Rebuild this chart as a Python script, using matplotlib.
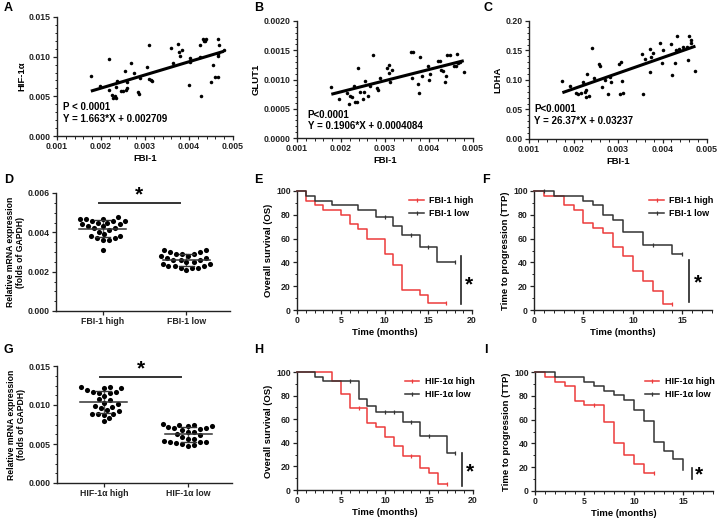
import numpy as np
import matplotlib
matplotlib.use("Agg")
import matplotlib.pyplot as plt
from matplotlib.lines import Line2D
from matplotlib.ticker import FormatStrFormatter, MultipleLocator

plt.rcParams["font.family"] = ["Liberation Sans", "DejaVu Sans"]
plt.rcParams["font.weight"] = "bold"
plt.rcParams["axes.labelweight"] = "bold"

RED = "#ec3b3b"
DARK = "#333333"

# ---- A/B/C: FBI-1 vs target genes ----
fbi_a = [0.00177, 0.00197, 0.00218, 0.00218, 0.00224, 0.00228, 0.00231, 0.00234, 0.00235, 0.00237,
         0.00246, 0.00251, 0.00255, 0.00256, 0.00260, 0.00260, 0.00269, 0.00274, 0.00283, 0.00286,
         0.00289, 0.00305, 0.00309, 0.00310, 0.00313, 0.00316, 0.00360, 0.00364, 0.00375, 0.00378,
         0.00380, 0.00383, 0.00399, 0.00402, 0.00403, 0.00424, 0.00426, 0.00427, 0.00432, 0.00436,
         0.00439, 0.00435, 0.00450, 0.00454, 0.00458, 0.00465, 0.00465, 0.00467, 0.00469, 0.00467,
         0.00479]
hif_a = [0.00754, 0.00632, 0.00965, 0.00581, 0.00518, 0.00484, 0.00505, 0.00615, 0.00480, 0.00699,
         0.00573, 0.00573, 0.00821, 0.00585, 0.00678, 0.00607, 0.00922, 0.00792, 0.00560, 0.00527,
         0.00725, 0.00864, 0.00716, 0.01146, 0.00708, 0.00695, 0.01108, 0.00918, 0.01158, 0.01053,
         0.01011, 0.01078, 0.00640, 0.00935, 0.00986, 0.01150, 0.00990, 0.00510, 0.01222, 0.01201,
         0.01222, 0.01192, 0.00682, 0.00893, 0.00741, 0.00741, 0.01003, 0.01222, 0.01146, 0.01036,
         0.01087]
fbi_b = [0.00178, 0.00196, 0.00213, 0.00218, 0.00221, 0.00224, 0.00229, 0.00232, 0.00236, 0.00238,
         0.00244, 0.00249, 0.00253, 0.00255, 0.00261, 0.00267, 0.00272, 0.00281, 0.00284, 0.00288,
         0.00305, 0.00308, 0.00310, 0.00312, 0.00316, 0.00358, 0.00363, 0.00361, 0.00376, 0.00378,
         0.00380, 0.00383, 0.00398, 0.00400, 0.00403, 0.00421, 0.00424, 0.00428, 0.00432, 0.00436,
         0.00438, 0.00442, 0.00447, 0.00457, 0.00461, 0.00464, 0.00467, 0.00470, 0.00479]
glut_b = [0.000869, 0.000674, 0.000771, 0.000589, 0.000720, 0.000703, 0.000897, 0.000611, 0.000617,
          0.001194, 0.000789, 0.000663, 0.000789, 0.000971, 0.000726, 0.000886, 0.001411, 0.000863,
          0.000817, 0.001029, 0.001194, 0.001114, 0.001251, 0.000949, 0.001160, 0.001474, 0.001463,
          0.001034, 0.000920, 0.000771, 0.001389, 0.001057, 0.001234, 0.000989, 0.001091, 0.001314,
          0.001314, 0.001160, 0.001143, 0.000960, 0.001057, 0.001417, 0.001417, 0.001234, 0.001229,
          0.001429, 0.001274, 0.001300, 0.001120]
fbi_c = [0.00175, 0.00193, 0.00206, 0.00210, 0.00216, 0.00221, 0.00225, 0.00227, 0.00229, 0.00231,
         0.00235, 0.00242, 0.00246, 0.00257, 0.00259, 0.00264, 0.00270, 0.00277, 0.00282, 0.00285,
         0.00302, 0.00306, 0.00308, 0.00304, 0.00311, 0.00354, 0.00356, 0.00360, 0.00371, 0.00373,
         0.00375, 0.00378, 0.00395, 0.00398, 0.00400, 0.00419, 0.00421, 0.00427, 0.00433, 0.00431,
         0.00436, 0.00445, 0.00454, 0.00457, 0.00460, 0.00463, 0.00465, 0.00474]
ldha_c = [0.0989, 0.0898, 0.0774, 0.0763, 0.0774, 0.0966, 0.0797, 0.0706, 0.0831, 0.1102,
          0.0734, 0.1548, 0.1034, 0.1277, 0.1232, 0.0881, 0.1000, 0.0757, 0.1045, 0.0972,
          0.1266, 0.1305, 0.0983, 0.0763, 0.0785, 0.1441, 0.0768, 0.1356, 0.1520, 0.1136,
          0.1384, 0.1463, 0.1633, 0.1294, 0.1508, 0.1605, 0.1090, 0.1288, 0.1746, 0.1508,
          0.1520, 0.1565, 0.1554, 0.1339, 0.1746, 0.1622, 0.1678, 0.1158]
fits = {"A": (1.663, 0.002709), "B": (0.1906, 0.0004084), "C": (26.37, 0.03237)}
fit_text = {"A": ("P < 0.0001", "Y = 1.663*X + 0.002709"),
            "B": ("P<0.0001", "Y = 0.1906*X + 0.0004084"),
            "C": ("P<0.0001", "Y = 26.37*X + 0.03237")}

# ---- D/G: relative mRNA expression ----
fbi_high = [0.0048, 0.0047, 0.0047, 0.0047, 0.0046, 0.0046, 0.0046, 0.0045, 0.0045, 0.0044,
            0.0044, 0.0043, 0.0043, 0.0042, 0.0042, 0.0041, 0.0040, 0.0039, 0.0038, 0.0038,
            0.0037, 0.0037, 0.0036, 0.0036, 0.0031]
fbi_low = [0.0031, 0.0030, 0.0031, 0.0030, 0.0029, 0.0029, 0.0029, 0.0028, 0.0028, 0.0027,
           0.0027, 0.0026, 0.0026, 0.0026, 0.0025, 0.0025, 0.0024, 0.0024, 0.0023, 0.0023,
           0.0023, 0.0022, 0.0022, 0.0022, 0.0021]
hif_high = [0.0123, 0.0123, 0.0122, 0.0122, 0.0119, 0.0117, 0.0117, 0.0116, 0.0115, 0.0112,
            0.0108, 0.0106, 0.0103, 0.0101, 0.0099, 0.0098, 0.0096, 0.0094, 0.0092, 0.0089,
            0.0089, 0.0088, 0.0087, 0.0083, 0.0079]
hif_low = [0.0076, 0.0075, 0.0074, 0.0073, 0.0073, 0.0072, 0.0071, 0.0070, 0.0069, 0.0068,
           0.0066, 0.0065, 0.0063, 0.0061, 0.0059, 0.0057, 0.0056, 0.0054, 0.0053, 0.0053,
           0.0052, 0.0051, 0.0050, 0.0049, 0.0047]

# ---- E/F/H/I: Kaplan-Meier curves (time, % at risk) ----
e_high_t = [0, 1, 2, 3, 5, 6, 7, 8, 10, 11, 12, 14, 15, 17]
e_high_s = [100, 92, 88, 84, 80, 72, 68, 60, 47, 38, 17, 13, 6, 6]
e_low_t = [0, 1, 2, 4, 7, 9, 11, 12, 14, 16, 18]
e_low_s = [100, 96, 92, 88, 84, 78.5, 71, 63, 53, 40, 40]
f_high_t = [0, 1, 3, 4, 5, 6, 7, 8, 9, 10, 11, 12, 13, 14]
f_high_s = [100, 96, 88, 84, 73, 69, 65, 53, 45, 33, 24, 16, 5, 5]
f_low_t = [0, 2, 5, 6, 7, 8, 9, 11, 14, 15]
f_low_s = [100, 96, 92, 88, 80, 76, 65.5, 55, 47, 47]
h_high_t = [0, 4, 5, 6, 8, 9, 10, 11, 12, 14, 15, 16, 17]
h_high_s = [100, 92.5, 81, 69.5, 57, 53, 44.5, 37, 29, 19, 14.5, 5, 5]
h_low_t = [0, 2, 3, 7, 8, 9, 12, 14, 17, 18]
h_low_s = [100, 96, 92.5, 77, 71.5, 66, 57.5, 46, 31, 31]
i_high_t = [0, 1, 2, 3, 4, 5, 7, 8, 9, 10, 11, 12]
i_high_s = [100, 96, 92, 88, 76, 72, 58, 40, 30, 23, 15, 15]
i_low_t = [0, 2, 5, 6, 7, 8, 9, 10, 11, 12, 13, 14, 15]
i_low_s = [100, 96, 92, 88, 84, 81, 76.5, 68, 59, 41, 34, 27, 18]

# censored observations (time, %)
e_high_cens = [(17, 6)]
e_low_cens = [(10, 78.5), (13, 63), (15, 53), (18, 40)]
f_high_cens = [(14, 5)]
f_low_cens = [(1, 100), (12, 55), (15, 47)]
h_high_cens = [(7, 69.5), (13, 29), (17, 5)]
h_low_cens = [(6, 92.5), (10, 66), (11, 66), (13, 57.5), (15, 46), (18, 31)]
i_high_cens = [(6, 72), (12, 15)]
i_low_cens = []

W, H = 717, 520


def rect(l, t, r, b):
    return [l / W, 1 - b / H, (r - l) / W, (b - t) / H]


def style(ax):
    for s in ("top", "right"):
        ax.spines[s].set_visible(False)
    for s in ("left", "bottom"):
        ax.spines[s].set_linewidth(1.0)
        ax.spines[s].set_color("#222222")
    ax.tick_params(which="major", length=3, width=0.9, labelsize=6.3, pad=1.5, colors="#222222")
    ax.tick_params(which="minor", length=1.8, width=0.7, colors="#222222")


def scatter_panel(ax, x, y, key, ylim, ystep, yfmt, ylabel, tx, ty):
    ax.scatter(x, y, s=6.5, color="black", zorder=3, linewidths=0)
    k, b = fits[key]
    xs = np.array([min(x), max(x)])
    ax.plot(xs, k * xs + b, color="black", lw=2.2, solid_capstyle="butt")
    ax.set_xlim(0.001, 0.005)
    ax.set_ylim(*ylim)
    ax.xaxis.set_major_locator(MultipleLocator(0.001))
    ax.xaxis.set_minor_locator(MultipleLocator(0.0002))
    ax.yaxis.set_major_locator(MultipleLocator(ystep))
    ax.yaxis.set_minor_locator(MultipleLocator(ystep / 5))
    ax.xaxis.set_major_formatter(FormatStrFormatter("%.3f"))
    ax.yaxis.set_major_formatter(FormatStrFormatter(yfmt))
    ax.set_xlabel("FBI-1", fontsize=6.8, labelpad=2)
    ax.set_ylabel(ylabel, fontsize=6.8, labelpad=2)
    p, eq = fit_text[key]
    ax.text(tx, ty, p, transform=ax.transAxes, fontsize=7, va="center")
    ax.text(tx, ty - 0.1, eq, transform=ax.transAxes, fontsize=7, va="center")
    style(ax)


def swarm_offsets(vals, ppu_x, ppu_y, d):
    order = np.argsort(vals)
    placed = []
    offs = np.zeros(len(vals))
    for i in order:
        y = vals[i] * ppu_y
        cands = [0.0]
        for px, py in placed:
            dy = abs(py - y)
            if dy < d:
                dx = np.sqrt(d * d - dy * dy)
                cands += [px + dx, px - dx]
        cands.sort(key=abs)
        for c in cands:
            if all((c - px) ** 2 + (y - py) ** 2 >= d * d - 1e-9 for px, py in placed):
                break
        placed.append((c, y))
        offs[i] = c / ppu_x
    return offs


def dot_panel(ax, groups, labels, ylim, ystep, ax_px, star_y, bar_y):
    xlim = (-0.555, 1.52)
    ax.set_xlim(*xlim)
    ax.set_ylim(*ylim)
    ppu_x = ax_px[0] / (xlim[1] - xlim[0])
    ppu_y = ax_px[1] / (ylim[1] - ylim[0])
    for i, vals in enumerate(groups):
        vals = np.array(vals)
        offs = swarm_offsets(vals, ppu_x, ppu_y, 6.2)
        ax.plot(i + offs, vals, "o", ms=3.7, color="black", mec="none", zorder=3, clip_on=False)
        m, sd = vals.mean(), vals.std(ddof=1)
        ax.plot([i - 0.28, i + 0.28], [m, m], color="#333333", lw=1.1, zorder=4)
        ax.plot([i, i], [m - sd, m + sd], color="#555555", lw=1.0, zorder=2)
        for v in (m - sd, m + sd):
            ax.plot([i - 0.09, i + 0.09], [v, v], color="#333333", lw=1.0, zorder=4)
    ax.plot([-0.04, 0.92], [bar_y, bar_y], color="#333333", lw=1.4, clip_on=False)
    ax.text(0.44, star_y, "*", fontsize=15, ha="center", va="center")
    ax.set_xticks([0, 1])
    ax.set_xticklabels(labels)
    ax.yaxis.set_major_locator(MultipleLocator(ystep))
    ax.yaxis.set_minor_locator(MultipleLocator(ystep / 4))
    ax.yaxis.set_major_formatter(FormatStrFormatter("%.3f"))
    ax.set_ylabel("Relative mRNA expression\n(folds of GAPDH)", fontsize=6.2, labelpad=2,
                  linespacing=1.1)
    style(ax)
    ax.tick_params(axis="x", which="minor", length=0)


def km_panel(ax, curves, labels, ylabel, xmax, xticks, sig_x, sig_y, star_xy):
    handles = []
    for (t, s, cens), col, lab in zip(curves, (RED, DARK), labels):
        ax.step(t, s, where="post", color=col, lw=1.1, clip_on=False, zorder=3)
        if cens:
            ct, cs = zip(*cens)
            ax.plot(ct, cs, "|", color=col, ms=3.5, mew=0.9, clip_on=False, zorder=3)
        handles.append(Line2D([], [], color=col, lw=1.1, marker="|", ms=3.5, mew=0.9))
    ax.plot([sig_x, sig_x], sig_y, color="#222222", lw=1.2, clip_on=False)
    ax.text(star_xy[0], star_xy[1], "*", fontsize=15, ha="center", va="center")
    ax.set_xlim(0, xmax)
    ax.set_ylim(0, 100)
    ax.set_xticks(xticks)
    ax.xaxis.set_minor_locator(MultipleLocator(1))
    ax.yaxis.set_major_locator(MultipleLocator(20))
    ax.yaxis.set_minor_locator(MultipleLocator(10))
    ax.set_xlabel("Time (months)", fontsize=6.8, labelpad=2)
    ax.set_ylabel(ylabel, fontsize=6.8, labelpad=2)
    ax.legend(handles, labels, loc="upper right", bbox_to_anchor=(1.04, 1.0), frameon=False,
              fontsize=6.5, handlelength=1.6, handletextpad=0.6, labelspacing=0.45,
              borderaxespad=0.2)
    style(ax)


fig = plt.figure(figsize=(W / 100, H / 100), dpi=100)

axA = fig.add_axes(rect(57, 17, 233, 136))
scatter_panel(axA, fbi_a, hif_a, "A", (0, 0.015), 0.005, "%.3f", "HIF-1α", 0.035, 0.24)
axB = fig.add_axes(rect(297, 21, 473, 138))
scatter_panel(axB, fbi_b, glut_b, "B", (0, 0.002), 0.0005, "%.4f", "GLUT1", 0.06, 0.2)
axC = fig.add_axes(rect(529, 21, 707, 139))
scatter_panel(axC, fbi_c, ldha_c, "C", (0, 0.2), 0.05, "%.2f", "LDHA", 0.03, 0.25)

axD = fig.add_axes(rect(56, 193, 230, 311))
dot_panel(axD, [fbi_high, fbi_low], ["FBI-1 high", "FBI-1 low"], (0, 0.006), 0.002,
          (174, 118), 0.00588, 0.0055)
axG = fig.add_axes(rect(57, 366, 232, 483))
dot_panel(axG, [hif_high, hif_low], ["HIF-1α high", "HIF-1α low"], (0, 0.015), 0.005,
          (175, 117), 0.0146, 0.0136)

axE = fig.add_axes(rect(297, 191, 472, 310))
km_panel(axE, [(e_high_t, e_high_s, e_high_cens), (e_low_t, e_low_s, e_low_cens)],
         ["FBI-1 high", "FBI-1 low"], "Overall survival (OS)", 20, [0, 5, 10, 15, 20],
         18.7, (5, 45), (19.7, 21))
axF = fig.add_axes(rect(534, 191, 712, 310))
km_panel(axF, [(f_high_t, f_high_s, f_high_cens), (f_low_t, f_low_s, f_low_cens)],
         ["FBI-1 high", "FBI-1 low"], "Time to progression (TTP)", 18, [0, 5, 10, 15],
         15.65, (7, 42), (16.6, 23))
axH = fig.add_axes(rect(297, 372, 473, 490))
km_panel(axH, [(h_high_t, h_high_s, h_high_cens), (h_low_t, h_low_s, h_low_cens)],
         ["HIF-1α high", "HIF-1α low"], "Overall survival (OS)", 20, [0, 5, 10, 15, 20],
         18.7, (3.5, 31), (19.7, 15))
axI = fig.add_axes(rect(535, 372, 713, 491))
km_panel(axI, [(i_high_t, i_high_s, i_high_cens), (i_low_t, i_low_s, i_low_cens)],
         ["HIF-1α high", "HIF-1α low"], "Time to progression (TTP)", 18, [0, 5, 10, 15],
         15.9, (10, 19), (16.6, 13.5))

for lab, (x, y) in {"A": (4, 8), "B": (254, 8), "C": (484, 8), "D": (4, 180), "E": (254, 180),
                    "F": (482, 180), "G": (4, 350), "H": (254, 350), "I": (484, 350)}.items():
    fig.text(x / W, 1 - y / H, lab, fontsize=9, fontweight="bold", va="center", ha="left")

fig.savefig("out.png", dpi=100)
